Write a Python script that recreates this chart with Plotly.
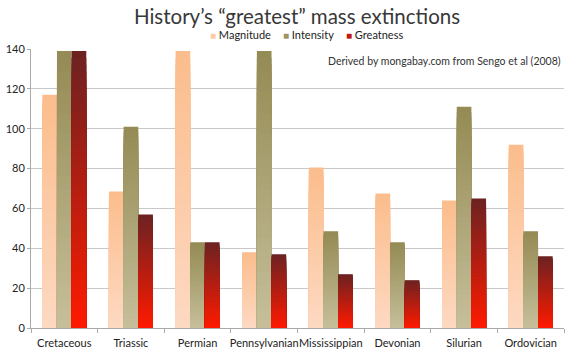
import plotly.graph_objects as go

categories = ["Cretaceous", "Triassic", "Permian", "Pennsylvanian", "Mississippian",
              "Devonian", "Silurian", "Ordovician"]
magnitude = [117, 68.5, 139, 38, 80.5, 67.5, 64, 92]
intensity = [139, 101, 43, 139, 48.5, 43, 111, 48.5]
greatness = [139, 57, 43, 37, 27, 24, 65, 36]

series_names = ["Magnitude", "Intensity", "Greatness"]
series_values = [magnitude, intensity, greatness]
top_colors = ["#FBBD8C", "#948A54", "#6B2222"]
bottom_colors = ["#FDD9C2", "#C6BF9A", "#FF1A00"]
legend_colors = ["#FCCBA6", "#9C9262", "#C01A10"]

N = 40


def hex2rgb(h):
    h = h.lstrip("#")
    return [int(h[i:i + 2], 16) for i in (0, 2, 4)]


def mix(top, bottom, t):
    a, b = hex2rgb(top), hex2rgb(bottom)
    c = [round(b[i] + (a[i] - b[i]) * t) for i in range(3)]
    return "rgb(%d,%d,%d)" % tuple(c)


fig = go.Figure()
for name, vals, top, bottom in zip(series_names, series_values, top_colors, bottom_colors):
    # tallest layer first, shorter layers drawn over it -> vertical gradient without seams
    for k in range(N):
        frac = (N - k) / N
        t = (N - k - 0.5) / N
        fig.add_trace(go.Bar(
            x=categories,
            y=[v * frac for v in vals],
            offsetgroup=name,
            name=name,
            showlegend=False,
            marker=dict(color=mix(top, bottom, t), line=dict(width=0)),
            hoverinfo="skip",
        ))

fig.update_layout(
    width=568, height=355,
    margin=dict(l=31, r=4, t=49, b=27),
    paper_bgcolor="white", plot_bgcolor="white",
    barmode="group", bargap=0.34, bargroupgap=0,
    font=dict(family="Lato, Open Sans, sans-serif", color="#222222", size=11),
    title=dict(text="History’s “greatest” mass extinctions",
               x=0.523, xanchor="center", y=0.952, yanchor="middle",
               font=dict(size=20.5, color="#383838")),
    showlegend=False,
)
fig.update_xaxes(
    showline=True, linecolor="#AAAAAA", linewidth=1, tickangle=0,
    ticks="outside", tickson="boundaries", ticklen=4, tickcolor="#AAAAAA",
    ticklabelstandoff=5,
    showgrid=False, tickfont=dict(size=11, color="#222222"),
)
fig.update_yaxes(
    range=[0, 140], dtick=20, showline=True, linecolor="#AAAAAA", linewidth=1,
    ticks="outside", ticklen=3, tickcolor="#AAAAAA",
    showgrid=True, gridcolor="#C8C8C8", gridwidth=1,
    tickfont=dict(size=11, color="#222222"), zeroline=False,
)

# legend drawn as text (small coloured squares + series names)
legend_x = [0.332, 0.469, 0.587]
for name, col, lx in zip(series_names, legend_colors, legend_x):
    fig.add_annotation(
        text='<span style="color:%s;font-size:10px">■</span> %s' % (col, name),
        xref="paper", yref="paper", x=lx, y=1.053, xanchor="left", yanchor="middle",
        showarrow=False, font=dict(size=11, color="#222222"),
    )

fig.add_annotation(
    text="Derived by mongabay.com from Sengo et al (2008)",
    xref="paper", yref="paper", x=0.998, y=0.985, xanchor="right", yanchor="top",
    showarrow=False, font=dict(size=10.5, color="#333333"),
)

fig.write_html(
    "out.html",
    config={"displayModeBar": False},
    post_script="document.body.style.margin='0';document.body.style.overflow='hidden';",
)
